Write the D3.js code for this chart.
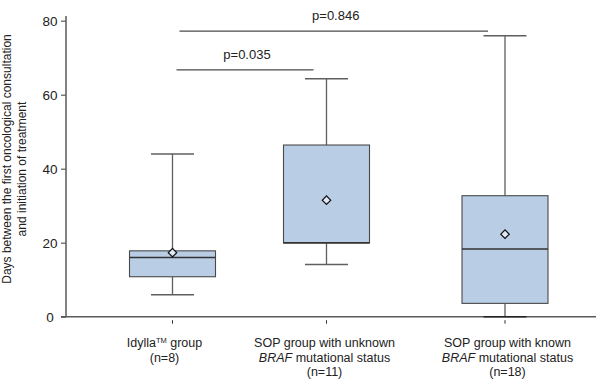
<!DOCTYPE html>
<html>
<head>
<meta charset="utf-8">
<script src="https://cdn.jsdelivr.net/npm/d3@7"></script>
<style>
  body { margin: 0; background: #fff; }
  svg { display: block; }
</style>
</head>
<body>
<div id="chart"></div>
<script>
// values (days)
const groups = ["idylla", "sopUnknown", "sopKnown"];
const q1 = [10.8, 19.9, 3.6];
const medians = [16.0, 20.0, 18.3];
const q3 = [17.8, 46.4, 32.7];
const whiskerLow = [5.9, 14.1, 0];
const whiskerHigh = [44.0, 64.3, 75.9];
const means = [17.3, 31.5, 22.3];
const yTicks = [0, 20, 40, 60, 80];
const comparisons = [
    { from: 0, to: 1, label: "p=0.035", level: 66.7 },
    { from: 0, to: 2, label: "p=0.846", level: 77.2 }
];

const width = 600, height = 382;
const boxW = 86, capW = 43;

const svg = d3.select("#chart").append("svg")
    .attr("width", width)
    .attr("height", height)
    .style("font-family", "'Liberation Sans', Arial, sans-serif");

const y = d3.scaleLinear().domain([0, 80]).range([316.7, 20.7]);
// group centres are not evenly spaced in the original
const x = d3.scaleOrdinal().domain(groups).range([172.5, 326.5, 505]);

// x axis line + detached ticks
svg.append("line")
    .attr("x1", 61).attr("x2", 596)
    .attr("y1", y(0)).attr("y2", y(0))
    .attr("stroke", "#5a5a5a").attr("stroke-width", 1.5);

svg.selectAll(".xtick").data(groups).enter().append("line")
    .attr("x1", d => x(d)).attr("x2", d => x(d))
    .attr("y1", y(0) + 3.5).attr("y2", y(0) + 7)
    .attr("stroke", "#333").attr("stroke-width", 1);

// y axis
const yAxis = svg.append("g")
    .attr("transform", "translate(66,0)")
    .call(d3.axisLeft(y).tickValues(yTicks).tickSize(5).tickPadding(8));
yAxis.select(".domain").attr("d", `M0,16V${y(0)}`)
    .attr("stroke", "#5a5a5a").attr("stroke-width", 1.5);
yAxis.selectAll(".tick line").attr("stroke", "#5a5a5a").attr("stroke-width", 1.2);
yAxis.selectAll(".tick text")
    .attr("x", -16)
    .attr("text-anchor", "middle")
    .style("font-size", "13.5px")
    .attr("fill", "#222")
    .style("font-family", "'Liberation Sans', Arial, sans-serif");

// y label
const yl = svg.append("g").style("font-size", "12px").attr("fill", "#222");
yl.append("text")
    .attr("transform", "translate(7,159) rotate(-90)")
    .attr("text-anchor", "middle")
    .attr("dominant-baseline", "central")
    .text("Days between the first oncological consultation");
yl.append("text")
    .attr("transform", "translate(21.5,169) rotate(-90)")
    .attr("text-anchor", "middle")
    .attr("dominant-baseline", "central")
    .text("and initiation of treatment");

// boxes
const boxes = svg.selectAll(".box").data(groups).enter().append("g");

boxes.append("line")
    .attr("x1", d => x(d)).attr("x2", d => x(d))
    .attr("y1", (d, i) => y(whiskerHigh[i])).attr("y2", (d, i) => y(q3[i]))
    .attr("stroke", "#5f5f5f").attr("stroke-width", 1.3);
boxes.append("line")
    .attr("x1", d => x(d)).attr("x2", d => x(d))
    .attr("y1", (d, i) => y(whiskerLow[i])).attr("y2", (d, i) => y(q1[i]))
    .attr("stroke", "#5f5f5f").attr("stroke-width", 1.3);
boxes.append("line")
    .attr("x1", d => x(d) - capW / 2).attr("x2", d => x(d) + capW / 2)
    .attr("y1", (d, i) => y(whiskerHigh[i])).attr("y2", (d, i) => y(whiskerHigh[i]))
    .attr("stroke", "#5f5f5f").attr("stroke-width", 1.5);
boxes.append("line")
    .attr("x1", d => x(d) - capW / 2).attr("x2", d => x(d) + capW / 2)
    .attr("y1", (d, i) => y(whiskerLow[i])).attr("y2", (d, i) => y(whiskerLow[i]))
    .attr("stroke", (d, i) => whiskerLow[i] === 0 ? "#222" : "#5f5f5f")
    .attr("stroke-width", 1.5);

boxes.append("rect")
    .attr("x", d => x(d) - boxW / 2)
    .attr("width", boxW)
    .attr("y", (d, i) => y(q3[i]))
    .attr("height", (d, i) => y(q1[i]) - y(q3[i]))
    .attr("fill", "#b9cde5")
    .attr("stroke", "#4a4a4a").attr("stroke-width", 1.1);

boxes.append("line")
    .attr("x1", d => x(d) - boxW / 2).attr("x2", d => x(d) + boxW / 2)
    .attr("y1", (d, i) => y(medians[i])).attr("y2", (d, i) => y(medians[i]))
    .attr("stroke", "#333").attr("stroke-width", 1.5);

const diamond = d3.symbol().type(d3.symbolSquare).size(36);
boxes.append("path")
    .attr("d", diamond)
    .attr("transform", (d, i) => `translate(${x(d)},${y(means[i])}) rotate(45)`)
    .attr("fill", "#dfe8f3")
    .attr("stroke", "#111").attr("stroke-width", 1.2);

// significance brackets
const sig = svg.append("g");
const lineOffsets = [[4, -13], [7, -17]];
comparisons.forEach((c, k) => {
    const x1 = x(groups[c.from]) + lineOffsets[k][0];
    const x2 = x(groups[c.to]) + lineOffsets[k][1];
    sig.append("line")
        .attr("x1", x1).attr("x2", x2)
        .attr("y1", y(c.level)).attr("y2", y(c.level))
        .attr("stroke", "#4a4a4a").attr("stroke-width", 1.2);
    sig.append("text")
        .attr("x", (x1 + x2) / 2 + 2)
        .attr("y", y(c.level) - 11)
        .attr("text-anchor", "middle")
        .style("font-size", "13px")
        .attr("fill", "#222")
        .text(c.label);
});

// category labels
const labels = svg.append("g").style("font-size", "12.5px").attr("fill", "#222");
const labelShift = [-8, -2, 2.5];
const lineY = [347, 361.5, 376];

groups.forEach((g, i) => {
    const cx = x(g) + labelShift[i];
    if (i === 0) {
        const t = labels.append("text").attr("x", cx).attr("y", lineY[0]).attr("text-anchor", "middle");
        t.append("tspan").text("Idylla");
        t.append("tspan").attr("dy", -4).style("font-size", "7.5px").text("TM");
        t.append("tspan").attr("dy", 4).text("  group");
        labels.append("text").attr("x", cx).attr("y", lineY[1]).attr("text-anchor", "middle").text("(n=8)");
    } else {
        labels.append("text").attr("x", cx).attr("y", lineY[0]).attr("text-anchor", "middle")
            .text(i === 1 ? "SOP group with unknown" : "SOP group with known");
        const t = labels.append("text").attr("x", cx).attr("y", lineY[1]).attr("text-anchor", "middle");
        t.append("tspan").style("font-style", "italic").text("BRAF");
        t.append("tspan").text(" mutational  status");
        labels.append("text").attr("x", cx).attr("y", lineY[2]).attr("text-anchor", "middle")
            .text(i === 1 ? "(n=11)" : "(n=18)");
    }
});
</script>
</body>
</html>
